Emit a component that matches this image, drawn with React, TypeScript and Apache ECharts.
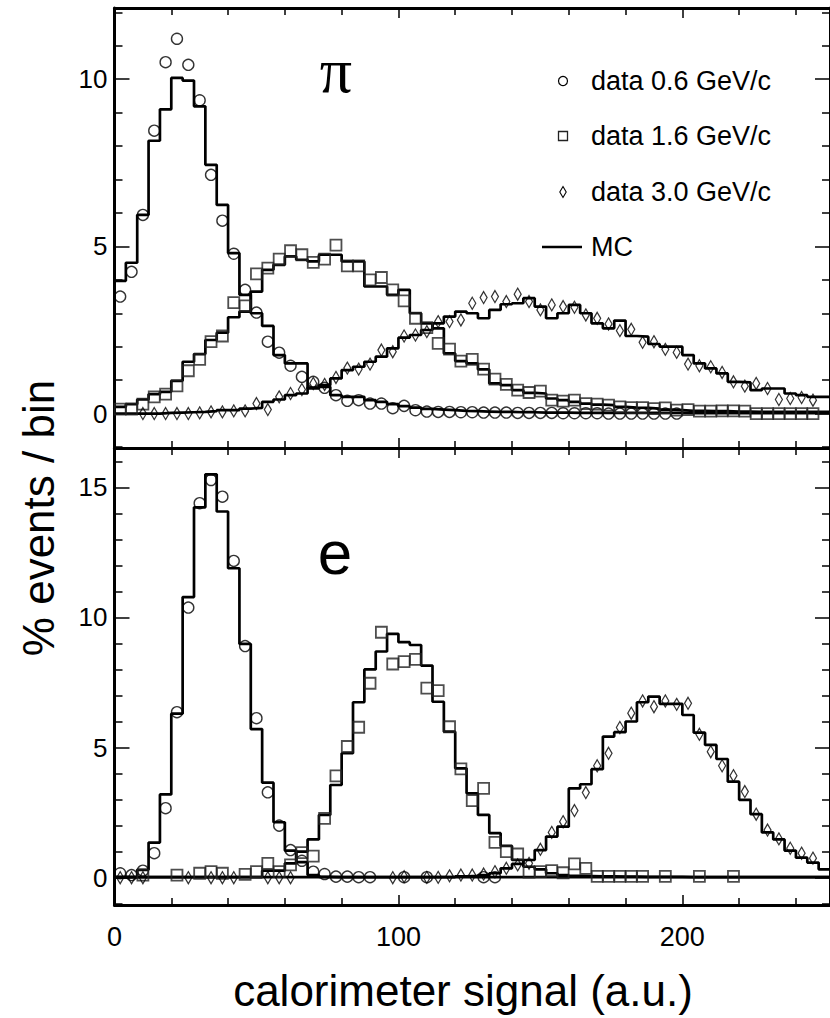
import React, { useEffect, useRef } from "react";
import * as echarts from "echarts";

// ---------- axes ----------
const BIN_WIDTH = 4;
const X_MIN = 0;
const X_MAX = 252;
const X_TICK_STEP = 100;
const TOP_Y_MIN = -1.03;
const TOP_Y_MAX = 12.13;
const BOTTOM_Y_MIN = -1.05;
const BOTTOM_Y_MAX = 16.51;
const Y_TICK_STEP = 5;

// ---------- texts ----------
const LEGEND_LABELS = ["data 0.6 GeV/c", "data 1.6 GeV/c", "data 3.0 GeV/c", "MC"];
const PANEL_LABELS = ["π", "e"];
const X_TITLE = "calorimeter signal (a.u.)";
const Y_TITLE = "% events / bin";

// ---------- pion panel (bins of 4 units, first bin 0-4) ----------
const PI_DATA_06 = [3.5, 4.24, 5.94, 8.46, 10.51, 11.21, 10.43, 9.37, 7.14, 5.77, 4.78, 3.7, 3.02, 2.15, 1.82, 1.43, 1.1, 0.95, 0.77, 0.55, 0.38, 0.4, 0.3, 0.3, 0.16, 0.23, 0.1, 0.06, 0.05, 0.05, 0.04, 0.04, 0.03, 0.03, 0.03, 0.02, 0.02, 0.02, 0.02, 0.01, 0.01, 0.01, 0.01, 0.0, 0.0, 0.0, 0.0, 0.0, 0.0, 0.0];
const PI_DATA_16 = [0.13, 0.13, 0.28, 0.5, 0.58, 0.83, 1.28, 1.62, 2.15, 2.32, 3.32, 3.22, 4.18, 4.35, 4.62, 4.87, 4.75, 4.52, 4.62, 5.04, 4.42, 4.42, 4.0, 4.07, 3.7, 3.37, 2.85, 2.57, 2.1, 1.93, 1.57, 1.62, 1.33, 1.03, 0.87, 0.7, 0.63, 0.67, 0.4, 0.37, 0.4, 0.3, 0.28, 0.25, 0.2, 0.18, 0.18, 0.15, 0.17, 0.1, 0.12, 0.07, 0.07, 0.08, 0.08, 0.07, 0.0, 0.0, 0.0, 0.0, 0.0, 0.0];
const PI_DATA_30 = [null, null, 0.0, 0.0, 0.0, 0.0, 0.0, 0.02, 0.05, 0.05, 0.08, 0.08, 0.3, 0.12, 0.5, 0.6, 0.72, 0.9, 0.87, 1.08, 1.36, 1.33, 1.48, 1.9, 1.85, 2.32, 2.35, 2.45, 2.75, 2.75, 2.8, 3.3, 3.47, 3.5, 3.35, 3.57, 3.35, 3.1, 3.25, 3.2, 3.18, 2.95, 2.85, 2.68, 2.48, 2.52, 2.13, 2.15, 1.92, 1.83, 1.48, 1.43, 1.4, 1.23, 0.95, 0.82, 0.9, 0.75, 0.42, 0.45, 0.48, 0.4];
const PI_MC_06 = [3.97, 4.51, 5.94, 8.16, 9.1, 10.04, 9.96, 9.19, 7.44, 6.24, 4.8, 3.55, 3.0, 2.62, 1.75, 1.5, 1.5, 0.75, 0.8, 0.55, 0.5, 0.5, 0.4, 0.35, 0.28, 0.22, 0.18, 0.14, 0.12, 0.1, 0.08, 0.07, 0.06, 0.05, 0.05, 0.04, 0.04, 0.03, 0.03, 0.03, 0.02, 0.02, 0.02, 0.02, 0.02, 0.02, 0.02, 0.02, 0.02, 0.02, 0.01, 0.01, 0.01, 0.01, 0.01, 0.01, 0.01, 0.01, 0.01, 0.01, 0.01, 0.01, 0.01];
const PI_MC_16 = [0.2, 0.28, 0.42, 0.58, 0.65, 0.98, 1.55, 1.78, 2.2, 2.42, 2.88, 3.05, 3.65, 4.3, 4.45, 4.7, 4.6, 4.55, 4.75, 4.75, 4.55, 4.55, 3.8, 3.8, 3.55, 3.7, 3.0, 2.7, 2.55, 1.8, 1.57, 1.5, 1.32, 0.9, 0.85, 0.7, 0.62, 0.6, 0.45, 0.4, 0.35, 0.3, 0.27, 0.25, 0.2, 0.18, 0.17, 0.15, 0.12, 0.1, 0.08, 0.08, 0.07, 0.07, 0.06, 0.06, 0.05, 0.05, 0.05, 0.05, 0.05, 0.05, 0.05];
const PI_MC_30 = [0.0, 0.0, 0.0, 0.0, 0.02, 0.03, 0.04, 0.05, 0.07, 0.1, 0.1, 0.15, 0.17, 0.35, 0.42, 0.55, 0.6, 0.78, 0.85, 1.05, 1.3, 1.4, 1.55, 1.7, 1.95, 2.27, 2.35, 2.5, 2.7, 2.9, 3.05, 3.0, 2.85, 3.1, 3.27, 3.3, 3.45, 3.2, 2.85, 3.0, 3.25, 3.0, 2.7, 2.55, 2.78, 2.32, 2.3, 2.08, 2.0, 2.0, 1.75, 1.5, 1.35, 1.2, 0.95, 0.93, 0.7, 0.75, 0.75, 0.6, 0.55, 0.5, 0.5];

// ---------- electron panel ----------
const E_DATA_06 = [0.17, 0.1, 0.27, 0.94, 2.67, 6.36, 10.38, 14.39, 15.28, 14.64, 12.17, 8.9, 6.13, 3.28, 2.0, 1.06, 0.65, 0.23, 0.14, 0.04, 0.04, 0.02, 0.02, null, null, 0.02, null, 0.02, null, null, null, null, 0.02, 0.02];
const E_DATA_16 = [null, null, 0.1, null, null, 0.1, null, 0.17, 0.23, 0.17, null, 0.13, 0.23, 0.55, 0.23, 0.49, 0.96, 0.83, 2.28, 3.91, 5.04, 5.78, 7.47, 9.43, 8.21, 8.3, 8.39, 7.28, 7.19, 5.8, 4.18, 2.96, 3.43, 1.36, 1.0, 0.91, 0.21, 0.23, 0.27, 0.19, 0.53, 0.36, 0.05, 0.05, 0.05, 0.05, 0.05, null, 0.05, null, null, 0.05, null, null, 0.05];
const E_DATA_30 = [0.0, 0.0, 0.0, null, null, null, 0.0, null, 0.0, 0.0, 0.0, null, null, 0.0, 0.0, 0.0, null, null, null, null, null, null, null, null, 0.0, 0.04, null, 0.01, 0.01, 0.07, 0.1, 0.1, 0.14, 0.23, 0.36, 0.49, 0.55, 1.09, 1.74, 2.15, 2.58, 3.27, 4.3, 4.78, 5.77, 6.32, 6.79, 6.57, 6.79, 6.66, 6.7, 5.51, 4.84, 4.3, 3.92, 3.31, 2.44, 1.83, 1.49, 1.13, 0.94, 0.75];
const E_MC_06 = [0.02, 0.03, 0.3, 1.35, 3.2, 6.3, 10.78, 14.23, 15.5, 14.07, 11.89, 8.98, 5.71, 3.65, 2.13, 1.04, 0.6, 0.1, 0.03, 0.02, 0.02, 0.02, 0.02, 0.02, 0.02, 0.02, 0.02, 0.02, 0.02, 0.02, 0.02, 0.02, 0.02, 0.02, 0.02, 0.02, 0.02, 0.02, 0.02, 0.02, 0.02, 0.02, 0.02, 0.02, 0.02, 0.02, 0.02, 0.02, 0.02, 0.02, 0.02, 0.02, 0.02, 0.02, 0.02, 0.02, 0.02, 0.02, 0.02, 0.02, 0.02, 0.02, 0.02];
const E_MC_16 = [0.02, 0.02, 0.02, 0.02, 0.02, 0.02, 0.02, 0.02, 0.02, 0.02, 0.02, 0.02, 0.02, 0.27, 0.27, 0.55, 1.0, 1.47, 2.41, 3.56, 4.78, 6.74, 8.0, 8.69, 9.37, 9.05, 8.94, 8.15, 6.76, 5.61, 4.2, 3.24, 2.41, 1.71, 1.22, 0.68, 0.42, 0.32, 0.17, 0.1, 0.07, 0.06, 0.05, 0.05, 0.04, 0.04, 0.03, 0.03, 0.03, 0.03, 0.02, 0.02, 0.02, 0.02, 0.02, 0.02, 0.02, 0.02, 0.02, 0.02, 0.02, 0.02, 0.02];
const E_MC_30 = [0.02, 0.02, 0.02, 0.02, 0.02, 0.02, 0.02, 0.02, 0.02, 0.02, 0.02, 0.02, 0.02, 0.02, 0.02, 0.02, 0.02, 0.02, 0.02, 0.02, 0.02, 0.02, 0.02, 0.02, 0.02, 0.02, 0.02, 0.02, 0.02, 0.02, 0.05, 0.07, 0.1, 0.17, 0.36, 0.53, 0.68, 1.06, 1.58, 1.96, 3.43, 3.59, 4.17, 5.42, 5.59, 6.0, 6.74, 6.96, 6.68, 6.68, 6.25, 5.57, 5.1, 4.56, 3.69, 2.99, 2.44, 1.74, 1.47, 1.04, 0.77, 0.58, 0.32];

const FONT = '"Liberation Sans", Arial, Helvetica, sans-serif';

function histogram(values: number[]) {
  const pts = values.map((v, k) => [k * BIN_WIDTH, v]);
  pts.push([values.length * BIN_WIDTH, values[values.length - 1]]);
  return pts;
}

function binCenters(values: (number | null)[]) {
  const pts: number[][] = [];
  values.forEach((v, k) => {
    if (v !== null) pts.push([k * BIN_WIDTH + BIN_WIDTH / 2, v]);
  });
  return pts;
}

const tickLine = { color: "#000", width: 1.5 };

function xAxis(gridIndex: number, position: string, labels: boolean) {
  return {
    type: "value",
    gridIndex,
    position,
    min: X_MIN,
    max: X_MAX,
    interval: X_TICK_STEP,
    axisLine: { show: true, onZero: false, lineStyle: { color: "#000", width: 3 } },
    axisTick: { show: true, inside: true, length: 10, lineStyle: tickLine },
    minorTick: { show: true, splitNumber: 5, length: 7, lineStyle: tickLine },
    splitLine: { show: false },
    axisLabel: {
      show: labels,
      showMaxLabel: false,
      margin: 18,
      fontSize: 27,
      fontFamily: FONT,
      color: "#000",
      formatter: (v: number) => (v % X_TICK_STEP === 0 ? String(v) : ""),
    },
  };
}

function yAxis(gridIndex: number, position: string, labels: boolean, min: number, max: number) {
  return {
    type: "value",
    gridIndex,
    position,
    min,
    max,
    splitNumber: 3,
    minInterval: Y_TICK_STEP,
    maxInterval: Y_TICK_STEP,
    axisLine: { show: true, onZero: false, lineStyle: { color: "#000", width: 3 } },
    axisTick: { show: true, inside: true, length: 15, lineStyle: tickLine },
    minorTick: { show: true, splitNumber: 5, length: 8, lineStyle: tickLine },
    splitLine: { show: false },
    axisLabel: {
      show: labels,
      showMinLabel: false,
      showMaxLabel: false,
      margin: 7,
      fontSize: 26,
      fontFamily: FONT,
      color: "#000",
      formatter: (v: number) => {
        const r = Math.round(v);
        return Math.abs(v - r) < 1e-6 && r % Y_TICK_STEP === 0 ? String(r) : "";
      },
    },
  };
}

const circleStyle = { color: "rgba(0,0,0,0)", borderColor: "#000", borderWidth: 1.4 };
const squareStyle = { color: "rgba(0,0,0,0)", borderColor: "#222", borderWidth: 1.8 };
const diamondStyle = { color: "rgba(0,0,0,0)", borderColor: "#000", borderWidth: 1.3 };

function panelSeries(panel: number, mc: number[][], data: (number | null)[][]) {
  const axisIdx = panel * 2;
  const series: any[] = [];
  mc.forEach((values) => {
    series.push({
      type: "line",
      xAxisIndex: axisIdx,
      yAxisIndex: axisIdx,
      step: "end",
      data: histogram(values),
      symbol: "none",
      silent: true,
      z: 2,
      lineStyle: { color: "#000", width: 2.7 },
    });
  });
  const markers = [
    { symbol: "circle", symbolSize: 11, itemStyle: circleStyle },
    { symbol: "rect", symbolSize: 11, itemStyle: squareStyle },
    { symbol: "diamond", symbolSize: [7, 12], itemStyle: diamondStyle },
  ];
  data.forEach((values, i) => {
    series.push({
      type: "scatter",
      xAxisIndex: axisIdx,
      yAxisIndex: axisIdx,
      data: binCenters(values),
      silent: true,
      z: 3,
      ...markers[i],
    });
  });
  return series;
}

const legendY = [81, 136, 192, 247];
const legendTextX = 591;
const legendMarkerX = 563;

const graphic: any[] = [
  {
    type: "circle",
    shape: { cx: legendMarkerX, cy: legendY[0], r: 4.5 },
    style: { fill: "none", stroke: "#000", lineWidth: 1.2 },
  },
  {
    type: "rect",
    shape: { x: legendMarkerX - 4.5, y: legendY[1] - 4.5, width: 9, height: 9 },
    style: { fill: "none", stroke: "#222", lineWidth: 1.3 },
  },
  {
    type: "polygon",
    shape: {
      points: [
        [legendMarkerX, legendY[2] - 5.5],
        [legendMarkerX + 3.2, legendY[2]],
        [legendMarkerX, legendY[2] + 5.5],
        [legendMarkerX - 3.2, legendY[2]],
      ],
    },
    style: { fill: "none", stroke: "#000", lineWidth: 1.1 },
  },
  {
    type: "line",
    shape: { x1: 542, y1: legendY[3], x2: 582, y2: legendY[3] },
    style: { stroke: "#000", lineWidth: 2.6 },
  },
  ...LEGEND_LABELS.map((t, i) => ({
    type: "text",
    x: legendTextX,
    y: legendY[i],
    style: { text: t, font: `27px ${FONT}`, fill: "#000", textAlign: "left", textVerticalAlign: "middle" },
  })),
  {
    type: "text",
    x: 336,
    y: 70,
    style: { text: PANEL_LABELS[0], font: `64px "Liberation Serif", "DejaVu Serif", serif`, fill: "#000", textAlign: "center", textVerticalAlign: "middle" },
  },
  {
    type: "text",
    x: 335,
    y: 552,
    style: { text: PANEL_LABELS[1], font: `62px ${FONT}`, fill: "#000", textAlign: "center", textVerticalAlign: "middle" },
  },
  {
    type: "text",
    x: 463,
    y: 990,
    style: { text: X_TITLE, font: `44px ${FONT}`, fill: "#000", textAlign: "center", textVerticalAlign: "middle" },
  },
  {
    type: "text",
    x: 38,
    y: 518,
    rotation: Math.PI / 2,
    style: { text: Y_TITLE, font: `44px ${FONT}`, fill: "#000", textAlign: "center", textVerticalAlign: "middle" },
  },
];

const option: any = {
  animation: false,
  backgroundColor: "#fff",
  textStyle: { fontFamily: FONT },
  grid: [
    { left: 114.5, right: -9, top: 8, height: 440 },
    { left: 114.5, right: -9, top: 448, height: 457 },
  ],
  xAxis: [xAxis(0, "bottom", false), xAxis(0, "top", false), xAxis(1, "bottom", true), xAxis(1, "top", false)],
  yAxis: [
    yAxis(0, "left", true, TOP_Y_MIN, TOP_Y_MAX),
    yAxis(0, "right", false, TOP_Y_MIN, TOP_Y_MAX),
    yAxis(1, "left", true, BOTTOM_Y_MIN, BOTTOM_Y_MAX),
    yAxis(1, "right", false, BOTTOM_Y_MIN, BOTTOM_Y_MAX),
  ],
  series: [
    ...panelSeries(0, [PI_MC_06, PI_MC_16, PI_MC_30], [PI_DATA_06, PI_DATA_16, PI_DATA_30]),
    ...panelSeries(1, [E_MC_06, E_MC_16, E_MC_30], [E_DATA_06, E_DATA_16, E_DATA_30]),
  ],
  graphic,
};

export default function App() {
  const ref = useRef<HTMLDivElement>(null);
  useEffect(() => {
    if (!ref.current) return;
    const chart = echarts.init(ref.current, null, { renderer: "svg" });
    chart.setOption(option);
    return () => chart.dispose();
  }, []);
  return (
    <div
      ref={ref}
      style={{ position: "fixed", left: 0, top: 0, width: 830, height: 1018, background: "#fff" }}
    />
  );
}
